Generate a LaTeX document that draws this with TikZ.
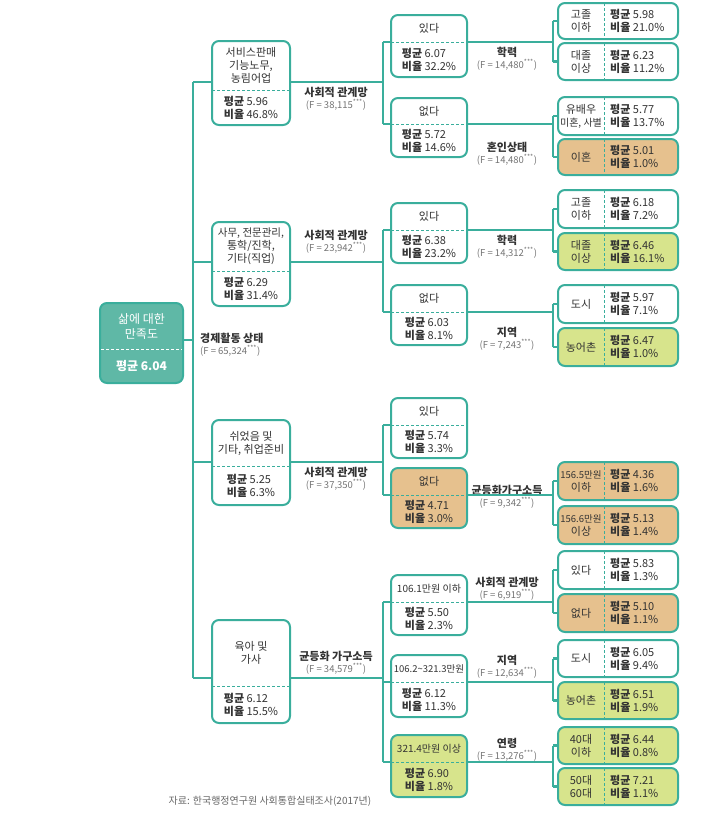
\documentclass[tikz,border=0pt]{standalone}
\usepackage{fontspec}
\setmainfont{Noto Sans CJK KR}
\begin{document}
\definecolor{teal}{HTML}{3AAE9C}
\definecolor{rootf}{HTML}{5FB8A6}
\definecolor{orf}{HTML}{E6C18E}
\definecolor{grf}{HTML}{D7E48C}
\definecolor{txt}{HTML}{333333}
\begin{tikzpicture}[x=1pt,y=-1pt,
  box/.style={draw=teal,line width=2pt,rounded corners=7pt,inner sep=0pt},
  dsh/.style={draw=teal,line width=1pt,dash pattern=on 3pt off 2pt},
  conn/.style={draw=teal,line width=2.5pt},
  t/.style={text=txt,font=\fontsize{11}{13}\selectfont,align=center,inner sep=0pt},
  lab/.style={text=txt,font=\fontsize{11}{12}\selectfont\bfseries,align=center,inner sep=0pt},
  fl/.style={text=gray!90!black,font=\fontsize{9.5}{11}\selectfont,inner sep=0pt}]
\useasboundingbox (0,0) rectangle (728,815);
\newcommand{\tb}[9]{%
  \node[box,fill=#7,minimum width={(#4-#2)*1pt},minimum height={(#5-#3)*1pt}] (#1) at ({(#2+#4)/2},{(#3+#5)/2}) {};
  \draw[dsh] (#2,#6) -- (#4,#6);
  \node[t] (#1-top) at ({(#2+#4)/2},{(#3+#6)/2}) {#8};
  \node[t,align=left] (#1-bot) at ({(#2+#4)/2},{(#6+#5)/2}) {#9};}
\newcommand{\lthree}[7]{%
  \node[box,fill=#4,minimum width=120pt,minimum height={(#3-#2)*1pt}] (#1) at (618,{(#2+#3)/2}) {};
  \draw[dsh] (604,#2) -- (604,#3);
  \node[t] (#1-l) at (581,{(#2+#3)/2}) {#5};
  \node[t,align=left,anchor=west] (#1-r) at (610,{(#2+#3)/2}) {\textbf{평균} #6\\\textbf{비율} #7};
  \coordinate (#1-in) at (558,{(#2+#3)/2});}
\newcommand{\mr}[2]{\textbf{평균} #1\\\textbf{비율} #2}
\node[box,fill=rootf,minimum width=83pt,minimum height=80pt] (root) at (141.5,343) {};
\draw[draw=white,line width=1pt,dash pattern=on 3pt off 2pt] (101,349) -- (182,349);
\node[t,text=white,font=\fontsize{12}{15}\selectfont] (root-top) at (141.5,326) {삶에 대한\\만족도};
\node[t,text=white,font=\fontsize{12}{14}\selectfont\bfseries] (root-bot) at (141.5,366) {평균 6.04};
\coordinate (root-out) at (183,340);
\node[lab,anchor=west] (l0) at (200,338) {경제활동 상태};
\node[fl,anchor=west] (f0) at (200,351) {(F = 65,324\textsuperscript{***})};
\tb{A}{212}{41}{290}{125}{90}{white}{서비스판매\\기능노무,\\농림어업}{\mr{5.96}{46.8\%}}
\tb{B}{212}{222}{290}{306}{271}{white}{\fontsize{10.5}{13}\selectfont 사무, 전문관리,\\통학/진학,\\기타(직업)}{\mr{6.29}{31.4\%}}
\tb{C}{212}{420}{290}{505}{466}{white}{쉬었음 및\\기타, 취업준비}{\mr{5.25}{6.3\%}}
\tb{D}{212}{620}{290}{723}{686}{white}{육아 및\\가사}{\mr{6.12}{15.5\%}}
\coordinate (Ai) at (212,82); \coordinate (Ao) at (290,82);
\coordinate (Bi) at (212,262); \coordinate (Bo) at (290,262);
\coordinate (Ci) at (212,462); \coordinate (Co) at (290,462);
\coordinate (Di) at (212,678); \coordinate (Do) at (290,678);
\coordinate (v0) at (193,0);
\draw[conn] (root-out) -- (v0|-root-out);
\draw[conn] (v0|-Ai) -- (v0|-Di);
\foreach \n in {Ai,Bi,Ci,Di} \draw[conn] (v0|-\n) -- (\n);
\node[lab] at (336,92) {사회적 관계망}; \node[fl] at (336,105) {(F = 38,115\textsuperscript{***})};
\node[lab] at (336,235) {사회적 관계망}; \node[fl] at (336,248) {(F = 23,942\textsuperscript{***})};
\node[lab] at (336,472) {사회적 관계망}; \node[fl] at (336,485) {(F = 37,350\textsuperscript{***})};
\node[lab] at (336,656) {균등화 가구소득}; \node[fl] at (336,669) {(F = 34,579\textsuperscript{***})};
\tb{Ay}{391}{15}{467}{77}{42}{white}{있다}{\mr{6.07}{32.2\%}}
\tb{An}{391}{98}{467}{157}{124}{white}{없다}{\mr{5.72}{14.6\%}}
\tb{By}{391}{203}{467}{263}{230}{white}{있다}{\mr{6.38}{23.2\%}}
\tb{Bn}{391}{285}{467}{345}{312}{white}{없다}{\mr{6.03}{8.1\%}}
\tb{Cy}{391}{398}{467}{458}{425}{white}{있다}{\mr{5.74}{3.3\%}}
\tb{Cn}{391}{468}{467}{528}{495}{orf}{없다}{\mr{4.71}{3.0\%}}
\tb{D1}{391}{575}{467}{635}{602}{white}{\fontsize{10}{12}\selectfont 106.1만원 이하}{\mr{5.50}{2.3\%}}
\tb{D2}{391}{655}{467}{717}{682}{white}{\fontsize{9.5}{12}\selectfont 106.2\textasciitilde321.3만원}{\mr{6.12}{11.3\%}}
\tb{D3}{391}{735}{467}{797}{762}{grf}{\fontsize{10}{12}\selectfont 321.4만원 이상}{\mr{6.90}{1.8\%}}
\foreach \n/\y in {Ay/42,An/124,By/230,Bn/312,Cy/425,Cn/495,D1/602,D2/682,D3/762}{
  \coordinate (\n-in) at (391,\y); \coordinate (\n-out) at (467,\y);}
\coordinate (v1) at (383,0);
\draw[conn] (Ao) -- (v1|-Ao); \draw[conn] (v1|-Ay-in) -- (v1|-An-in);
\draw[conn] (Bo) -- (v1|-Bo); \draw[conn] (v1|-By-in) -- (v1|-Bn-in);
\draw[conn] (Co) -- (v1|-Co); \draw[conn] (v1|-Cy-in) -- (v1|-Cn-in);
\draw[conn] (Do) -- (v1|-Do); \draw[conn] (v1|-D1-in) -- (v1|-D3-in);
\foreach \n in {Ay,An,By,Bn,Cy,Cn,D1,D2,D3} \draw[conn] (v1|-\n-in) -- (\n-in);
\node[lab] at (507,52) {학력}; \node[fl] at (507,65) {(F = 14,480\textsuperscript{***})};
\node[lab] at (507,147) {혼인상태}; \node[fl] at (507,160) {(F = 14,480\textsuperscript{***})};
\node[lab] at (507,240) {학력}; \node[fl] at (507,253) {(F = 14,312\textsuperscript{***})};
\node[lab] at (507,332) {지역}; \node[fl] at (507,345) {(F = 7,243\textsuperscript{***})};
\node[lab] at (507,490) {균등화가구소득}; \node[fl] at (507,503) {(F = 9,342\textsuperscript{***})};
\node[lab] at (507,582) {사회적 관계망}; \node[fl] at (507,595) {(F = 6,919\textsuperscript{***})};
\node[lab] at (507,660) {지역}; \node[fl] at (507,673) {(F = 12,634\textsuperscript{***})};
\node[lab] at (507,743) {연령}; \node[fl] at (507,756) {(F = 13,276\textsuperscript{***})};
\lthree{a1}{3}{39}{white}{고졸\\이하}{5.98}{21.0\%}
\lthree{a2}{43}{80}{white}{대졸\\이상}{6.23}{11.2\%}
\lthree{b1}{97}{135}{white}{유배우\\{\fontsize{10}{12}\selectfont 미혼, 사별}}{5.77}{13.7\%}
\lthree{b2}{139}{175}{orf}{이혼}{5.01}{1.0\%}
\lthree{c1}{190}{228}{white}{고졸\\이하}{6.18}{7.2\%}
\lthree{c2}{233}{270}{grf}{대졸\\이상}{6.46}{16.1\%}
\lthree{d1}{285}{323}{white}{도시}{5.97}{7.1\%}
\lthree{d2}{328}{366}{grf}{농어촌}{6.47}{1.0\%}
\lthree{e1}{462}{500}{orf}{\fontsize{9.5}{11.5}\selectfont 156.5만원\\이하}{4.36}{1.6\%}
\lthree{e2}{506}{544}{orf}{\fontsize{9.5}{11.5}\selectfont 156.6만원\\이상}{5.13}{1.4\%}
\lthree{f1}{551}{589}{white}{있다}{5.83}{1.3\%}
\lthree{f2}{594}{632}{orf}{없다}{5.10}{1.1\%}
\lthree{g1}{640}{677}{white}{도시}{6.05}{9.4\%}
\lthree{g2}{682}{719}{grf}{농어촌}{6.51}{1.9\%}
\lthree{h1}{727}{764}{grf}{40대\\이하}{6.44}{0.8\%}
\lthree{h2}{768}{805}{grf}{50대\\60대}{7.21}{1.1\%}
\coordinate (v2) at (553,0);
\foreach \p/\x/\y in {Ay/a1/a2,An/b1/b2,By/c1/c2,Bn/d1/d2,Cn/e1/e2,D1/f1/f2,D2/g1/g2,D3/h1/h2}{
  \draw[conn] (\p-out) -- (v2|-\p-out);
  \draw[conn] (v2|-\x-in) -- (v2|-\y-in);
  \draw[conn] (v2|-\x-in) -- (\x-in);
  \draw[conn] (v2|-\y-in) -- (\y-in);}
\node[fl,text=gray!80!black,font=\fontsize{10}{12}\selectfont] (src) at (270,801) {자료: 한국행정연구원 사회통합실태조사(2017년)};
\end{tikzpicture}
\end{document}
